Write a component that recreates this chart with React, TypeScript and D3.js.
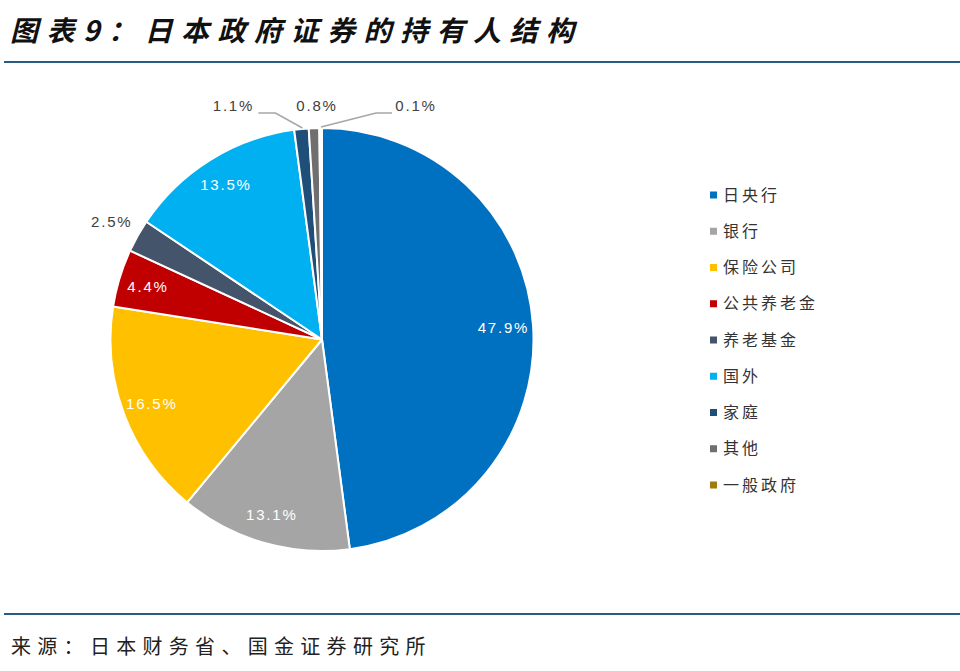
import React from "react";
import * as d3 from "d3";

const categories = ["日央行", "银行", "保险公司", "公共养老金", "养老基金", "国外", "家庭", "其他", "一般政府"];
const values = [47.9, 13.1, 16.5, 4.4, 2.5, 13.5, 1.1, 0.8, 0.1];
const colors = ["#0070C0", "#A5A5A5", "#FFC000", "#C00000", "#44546A", "#00B0F0", "#1F4E79", "#6F6F6F", "#A07C0B"];
// label placement: "in" = inside (white), "out" = outside radial, "top" = lifted above pie with dx offset
const labelMode = ["in", "in", "in", "in", "out", "in", "top", "top", "top"];
const topDx = [0, 0, 0, 0, 0, 0, -68, 3, 96];

const W = 960;
const H = 671;
const cx = 322;
const cy = 339.5;
const R = 211.5;

export default function App() {
  const pie = d3.pie<number>().value((d) => d).sort(null).startAngle(0).endAngle(Math.PI * 2 * (values.reduce((a, b) => a + b, 0) / 100));
  const arcs = pie(values);
  const arcGen = d3.arc<d3.PieArcDatum<number>>().innerRadius(0).outerRadius(R);
  const fmt = (v: number) => v.toFixed(1) + "%";
  const pt = (a: number, r: number) => [cx + r * Math.sin(a), cy - r * Math.cos(a)];
  const labelFont = "'Liberation Sans', Arial, sans-serif";
  const cjk = "'Noto Sans CJK SC', sans-serif";

  return (
    <svg width={W} height={H} style={{ position: "absolute", left: 0, top: 0, background: "#fff" }}>
      <text x={10} y={41} fontFamily={cjk} fontSize={28} fontWeight={700} fontStyle="italic" letterSpacing={8.5} fill="#111">
        图表9：日本政府证券的持有人结构
      </text>
      <line x1={4} x2={960} y1={62} y2={62} stroke="#2A5A86" strokeWidth={2} />

      <g>
        {arcs.map((a, i) => (
          <path key={i} d={arcGen(a) || ""} transform={`translate(${cx},${cy})`} fill={colors[i]} stroke="#fff" strokeWidth={2} strokeLinejoin="round" />
        ))}
      </g>

      <g fontFamily={labelFont} fontSize={15} letterSpacing={1.8}>
        {arcs.map((a, i) => {
          const mid = (a.startAngle + a.endAngle) / 2;
          if (labelMode[i] === "in") {
            const [x, y] = pt(mid, R * 0.86);
            return (
              <text key={i} x={x} y={y} dy="0.35em" textAnchor="middle" fill="#fff">
                {fmt(values[i])}
              </text>
            );
          }
          if (labelMode[i] === "out") {
            const [x, y] = pt(mid, R * 1.14);
            return (
              <text key={i} x={x} y={y} dy="0.35em" textAnchor="middle" fill="#404040">
                {fmt(values[i])}
              </text>
            );
          }
          const [ex, ey] = pt(mid, R);
          const lx = ex + topDx[i];
          const ly = cy - R - 22;
          const elems: any[] = [
            <text key={"t" + i} x={lx} y={ly} dy="0.35em" textAnchor="middle" fill="#404040">
              {fmt(values[i])}
            </text>,
          ];
          if (topDx[i] < -20) {
            elems.push(
              <polyline key={"l" + i} points={`${lx + 25},${ly + 7} ${lx + 42},${ly + 7} ${ex + 1},${ey - 1}`} fill="none" stroke="#A6A6A6" strokeWidth={1.5} />
            );
          } else if (topDx[i] > 20) {
            elems.push(
              <polyline key={"l" + i} points={`${lx - 24},${ly + 7} ${lx - 40},${ly + 7} ${ex + 1},${ey - 1}`} fill="none" stroke="#A6A6A6" strokeWidth={1.5} />
            );
          }
          return <g key={i}>{elems}</g>;
        })}
      </g>

      <g fontFamily={cjk} fontSize={16} letterSpacing={3} fill="#333">
        {categories.map((c, i) => {
          const y = 195 + i * 36.25;
          return (
            <g key={i}>
              <rect x={710} y={y - 3.5} width={7} height={7} fill={colors[i]} />
              <text x={723} y={y} dy="0.35em">
                {c}
              </text>
            </g>
          );
        })}
      </g>

      <line x1={4} x2={960} y1={614} y2={614} stroke="#2A5A86" strokeWidth={2} />
      <text x={11} y={654} fontFamily={cjk} fontSize={20} letterSpacing={6.3} fill="#222">
        来源：日本财务省、国金证券研究所
      </text>
    </svg>
  );
}
